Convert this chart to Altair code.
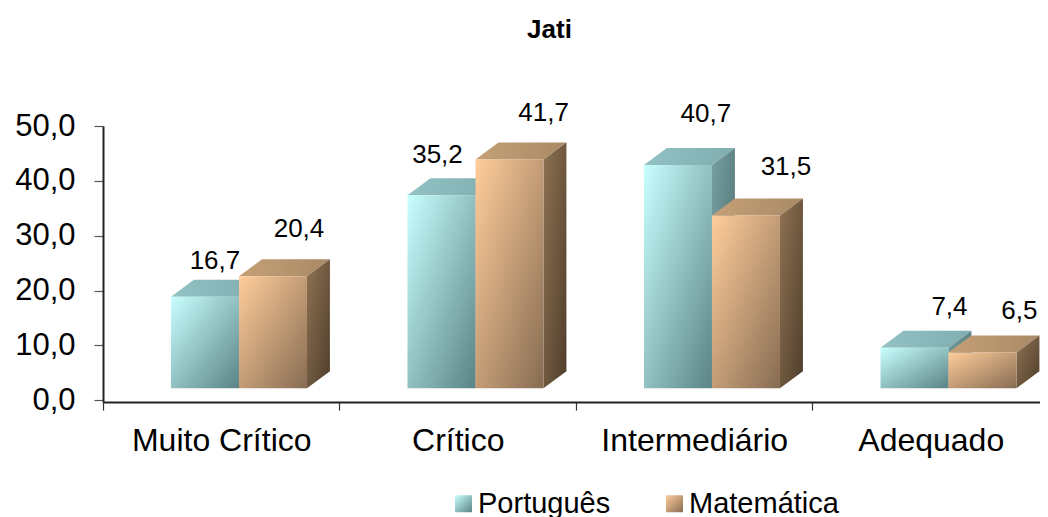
import json
import altair as alt
import pandas as pd

categories = ["Muito Crítico", "Crítico", "Intermediário", "Adequado"]
series = ["Português", "Matemática"]
portugues = [16.7, 35.2, 40.7, 7.4]
matematica = [20.4, 41.7, 31.5, 6.5]
y_ticks = [0, 10, 20, 30, 40, 50]

# Pseudo-3D geometry, in data units of the two scales
BAR_W, BAR_START = 0.2875, 0.2875
DX, DY = 0.097, 3.1
BASE = 2.2
# Hand-placed value labels of the reference, relative to the bar's front top centre
label_dx = {"Português": [0.042, -0.017, 0.118, 0.148], "Matemática": [0.11, 0.144, 0.169, 0.156]}
label_dy = {"Português": [6.5, 7.3, 9.3, 7.5], "Matemática": [8.6, 8.5, 8.9, 7.6]}

FONT = "Liberation Sans"


def grad(c0, c1, x2=1, y2=1):
    return alt.Gradient(gradient="linear", x1=0, y1=0, x2=x2, y2=y2,
                        stops=[alt.GradientStop(offset=0, color=c0), alt.GradientStop(offset=1, color=c1)])


def grad_expr(c0, c1):
    return {"expr": "{gradient:'linear',x1:0,y1:0,x2:1,y2:1,stops:[{offset:0,color:'%s'},{offset:1,color:'%s'}]}" % (c0, c1)}


styles = {
    "Português": dict(top=grad("#93c2c4", "#7fadb0", 1, 0), side=grad("#769fa1", "#4c6d6e", 1, 1)),
    "Matemática": dict(top=grad("#c5a077", "#a98a66", 1, 0), side=grad("#8f7353", "#4f3d2b", 1, 1)),
}
front_colors = [grad_expr("#c9ffff", "#5a8385"), grad_expr("#ffcd9b", "#876c52")]

front, top, side, labels = [], [], [], []
for s_i, (name, vals) in enumerate(zip(series, [portugues, matematica])):
    for i, (cat, v) in enumerate(zip(categories, vals)):
        x0 = i + BAR_START + s_i * BAR_W
        x1 = x0 + BAR_W
        t = BASE + v
        front.append(dict(s=name, c=cat, x=x0, x2=x1, y=t, y2=BASE))
        for xx, a, b in [(x0, t, t), (x0 + DX, t + DY, t), (x1, t + DY, t), (x1 + DX, t + DY, t + DY)]:
            top.append(dict(s=name, c=cat, x=xx, y=a, y2=b))
        for xx, a, b in [(x1, t, BASE), (x1 + DX, t + DY, BASE + DY)]:
            side.append(dict(s=name, c=cat, x=xx, y=a, y2=b))
        labels.append(dict(s=name, c=cat, x=(x0 + x1) / 2 + label_dx[name][i], y=t + label_dy[name][i],
                           t=f"{v:.1f}".replace(".", ",")))

front, top, side, labels = map(pd.DataFrame, (front, top, side, labels))

xscale = alt.Scale(domain=[0, 3.962], nice=False, zero=False)
yscale = alt.Scale(domain=[-0.3, 50], nice=False, zero=False)

cat_js = json.dumps(categories, ensure_ascii=False)
x_axis = alt.Axis(
    values=[0, 0.5, 1, 1.5, 2, 2.5, 3, 3.5],
    title=None, grid=False, labelAngle=0, labelFont=FONT, labelFontSize=32, labelColor="#000",
    labelExpr=f"datum.value % 1 ? {cat_js}[floor(datum.value)] : ''",
    labelOverlap=False, labelBound=False, labelFlush=False, labelPadding=15, labelLimit=400,
    tickSize=8, tickColor="#333", tickWidth=1.2,
    tickOpacity={"condition": {"test": "datum.value % 1 === 0", "value": 1}, "value": 0},
    domainColor="#222", domainWidth=2,
)
y_axis = alt.Axis(
    values=y_ticks, title=None, grid=False, labelFont=FONT, labelFontSize=31, labelColor="#000",
    labelExpr="replace(format(datum.value, '.1f'), '.', ',')",
    labelPadding=19, tickSize=9, tickColor="#555", tickWidth=1.2, domainColor="#222", domainWidth=2,
    labelOverlap=False, labelBound=False,
)

X = alt.X("x:Q", scale=xscale, axis=x_axis)
Y = alt.Y("y:Q", scale=yscale, axis=y_axis)
color = alt.Color("s:N", sort=series, scale=alt.Scale(domain=series, range=front_colors),
                  legend=alt.Legend(
                      title=None, orient="none", legendX=346, legendY=363, direction="horizontal", columns=2,
                      symbolType="square", symbolSize=289, symbolStrokeWidth=0, symbolOpacity=1,
                      labelFont=FONT, labelFontSize=29, labelColor="#000", labelOffset=0, labelLimit=300,
                      columnPadding=49, padding=0,
                  ))

layers = []
for name in series:
    st = styles[name]
    for df, key in ((top, "top"), (side, "side")):
        layers.append(
            alt.Chart(df[df.s == name]).mark_area(color=st[key], interpolate="linear").encode(
                x=X, y=Y, y2="y2:Q", detail="c:N")
        )
    layers.append(
        alt.Chart(front[front.s == name]).mark_rect(opacity=1).encode(
            x=X, x2="x2:Q", y=Y, y2="y2:Q", detail="c:N", color=color)
    )

layers.append(
    alt.Chart(labels).mark_text(font=FONT, fontSize=26, color="#000", align="center", baseline="middle", clip=False).encode(
        x=X, y=Y, text="t:N")
)

chart = alt.layer(*layers).properties(
    width=937, height=276,
    padding={"left": 95, "top": 118, "right": 0, "bottom": 115},
    autosize=alt.AutoSizeParams(type="none"),
    title=alt.TitleParams("Jati", anchor="middle", dx=-22, offset=57, font=FONT, fontSize=26, fontWeight="bold", color="#000"),
).configure_view(stroke=None)

chart.save("out.html", embed_options={"renderer": "svg", "actions": False})
